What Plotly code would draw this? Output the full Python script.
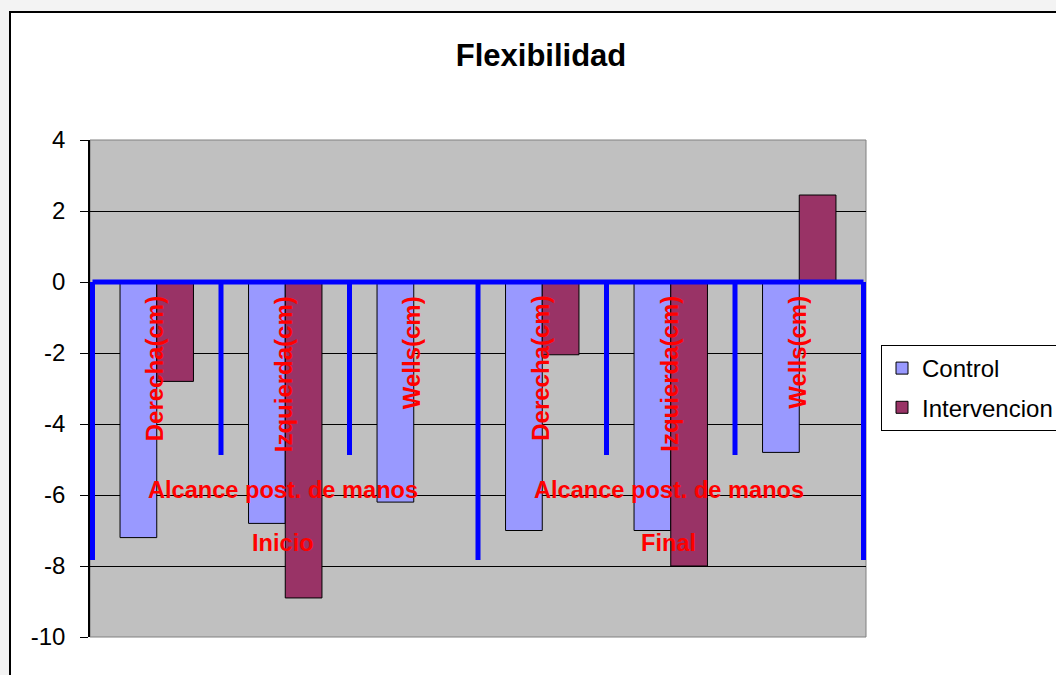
import plotly.graph_objects as go

# Measurements: two phases, three tests each
fases = ["Inicio", "Final"]
grupo = "Alcance post. de manos"
medidas = ["Derecha(cm)", "Izquierda(cm)", "Wells(cm)"]

control = [-7.2, -6.8, -6.2, -7.0, -7.0, -4.8]
intervencion = [-2.8, -8.9, 0.0, -2.05, -8.0, 2.45]

y_ticks = [4, 2, 0, -2, -4, -6, -8, -10]

W, H = 1056, 675
ML, MR, MT, MB = 90, 190, 140, 38
PW, PH = W - ML - MR, H - MT - MB

FONT = "Liberation Sans, Arial, sans-serif"
RED = "#FF0000"
BLUE = "#0000FF"

categorias = [f"{f} {m}" for f in fases for m in medidas]


def px_to_paper_x(px):
    return (px - ML) / PW


def px_to_paper_y(py):
    return (H - MB - py) / PH


fig = go.Figure()
fig.add_trace(go.Bar(
    name="Control", x=categorias, y=control, legendgroup="c",
    marker=dict(color="#9999FF", line=dict(color="black", width=1)),
))
fig.add_trace(go.Bar(
    name="Intervencion", x=categorias, y=intervencion, legendgroup="i",
    marker=dict(color="#993366", line=dict(color="black", width=1)),
))

shapes = [
    # chart frame
    dict(type="rect", xref="paper", yref="paper", layer="below",
         x0=px_to_paper_x(10), x1=px_to_paper_x(1075),
         y0=px_to_paper_y(690), y1=px_to_paper_y(12),
         fillcolor="white", line=dict(color="black", width=2)),
    # plot area
    dict(type="rect", xref="paper", yref="paper", layer="below",
         x0=0, x1=1, y0=0, y1=1,
         fillcolor="#C0C0C0", line=dict(color="#808080", width=1)),
]

# category axis drawn across y = 0
n = len(categorias)
shapes.append(dict(type="line", xref="x", yref="y", layer="above",
                   x0=-0.5, x1=n - 0.5, y0=0, y1=0,
                   line=dict(color=BLUE, width=5)))
per_fase = len(medidas)
for k in range(n + 1):
    mayor = k % per_fase == 0
    shapes.append(dict(type="line", xref="x", yref="y", layer="above",
                       ysizemode="pixel", yanchor=0,
                       x0=k - 0.5, x1=k - 0.5, y0=0, y1=-278 if mayor else -173,
                       line=dict(color=BLUE, width=5)))

annotations = []
for i, c in enumerate(categorias):
    annotations.append(dict(
        x=i, y=0, xref="x", yref="y", text=f"<b>{medidas[i % per_fase]}</b>",
        textangle=-90, yanchor="top", xanchor="center", yshift=-12, xshift=-2,
        showarrow=False, font=dict(family=FONT, size=24, color=RED)))
for j, f in enumerate(fases):
    centro = j * per_fase + (per_fase - 1) / 2
    annotations.append(dict(
        x=centro, y=0, xref="x", yref="y", text=f"<b>{grupo}</b>",
        yanchor="middle", yshift=-208, xshift=-2, showarrow=False,
        font=dict(family=FONT, size=23.6, color=RED)))
    annotations.append(dict(
        x=centro, y=0, xref="x", yref="y", text=f"<b>{f}</b>",
        yanchor="middle", yshift=-261, xshift=-2, showarrow=False,
        font=dict(family=FONT, size=23.6, color=RED)))

fig.update_layout(
    width=W, height=H,
    margin=dict(l=ML, r=MR, t=MT, b=MB, autoexpand=False),
    paper_bgcolor="#F3F3F3",
    plot_bgcolor="#C0C0C0",
    barmode="group", bargap=1.5 / 3.5, bargroupgap=0,
    title=dict(text="<b>Flexibilidad</b>", x=541 / W, xref="container",
               y=1 - 55 / H, yref="container", xanchor="center", yanchor="middle",
               font=dict(family=FONT, size=31, color="black")),
    xaxis=dict(type="category", showticklabels=False, showgrid=False,
               zeroline=False, showline=False, ticks=""),
    yaxis=dict(range=[-10, 4], tickvals=y_ticks, ticktext=[str(v) for v in y_ticks],
               showgrid=True, gridcolor="black", gridwidth=1,
               zeroline=False, showline=True, linecolor="black", linewidth=1.5,
               ticks="outside", ticklen=8, tickcolor="black", ticklabelstandoff=10,
               tickfont=dict(family=FONT, size=24, color="black")),
    legend=dict(x=px_to_paper_x(881), y=px_to_paper_y(345), xanchor="left", yanchor="top",
                bgcolor="white", bordercolor="black", borderwidth=1,
                tracegroupgap=5,
                font=dict(family=FONT, size=24, color="black")),
    shapes=shapes,
    annotations=annotations,
)

fig.write_html("out.html")
